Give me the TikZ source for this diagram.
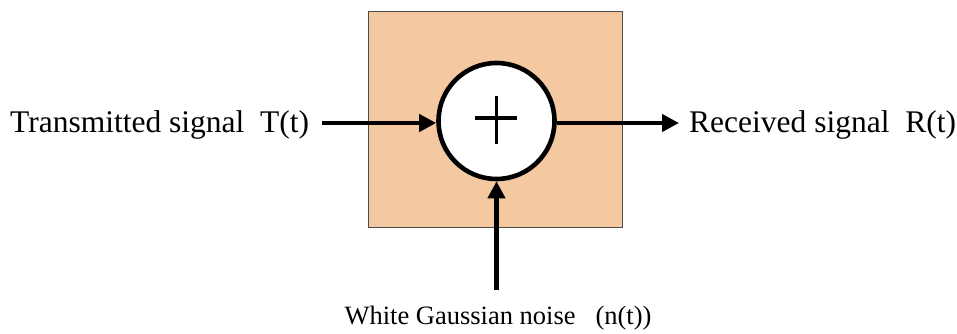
\documentclass[tikz,border=0pt]{standalone}
\usepackage{fontspec}
\setmainfont{Liberation Serif}
\usetikzlibrary{arrows.meta}
\definecolor{peach}{RGB}{244,201,161}
\begin{document}
\begin{tikzpicture}[x=1pt,y=1pt,
  lbl/.style={inner sep=0pt,font=\fontsize{31.5}{36}\selectfont},
  lblsmall/.style={inner sep=0pt,font=\fontsize{26.5}{30}\selectfont},
  arr/.style={line width=4.2pt,-{Triangle[length=17pt,width=17pt]}}]
\useasboundingbox (0,0) rectangle (957,334);
\node[draw=black!70,line width=1pt,fill=peach,minimum width=254pt,minimum height=216pt,inner sep=0pt] (box) at (495,214) {};
\node[circle,draw,line width=4.6pt,fill=white,minimum size=116pt,inner sep=0pt] (sum) at (496.5,213) {};
\draw[line width=3.8pt] (475,216) -- (517,216);
\draw[line width=3.8pt] (496.5,238) -- (496.5,190);
\node[lbl,anchor=west] (tx) at (10,209) {Transmitted signal\ \ T(t)};
\node[lbl,anchor=west] (rx) at (689,209) {Received signal\ \ R(t)};
\coordinate (txend) at (322,211);
\coordinate (rxend) at (679,211);
\coordinate (noisestart) at (496.5,44);
\node[lblsmall] (nlabel) at (498,16) {White Gaussian noise\ \ \ (n(t))};
\draw[arr] (txend) -- (txend -| sum.west);
\draw[arr] (rxend -| sum.east) -- (rxend);
\draw[arr] (noisestart) -- (sum.south);
\end{tikzpicture}
\end{document}
